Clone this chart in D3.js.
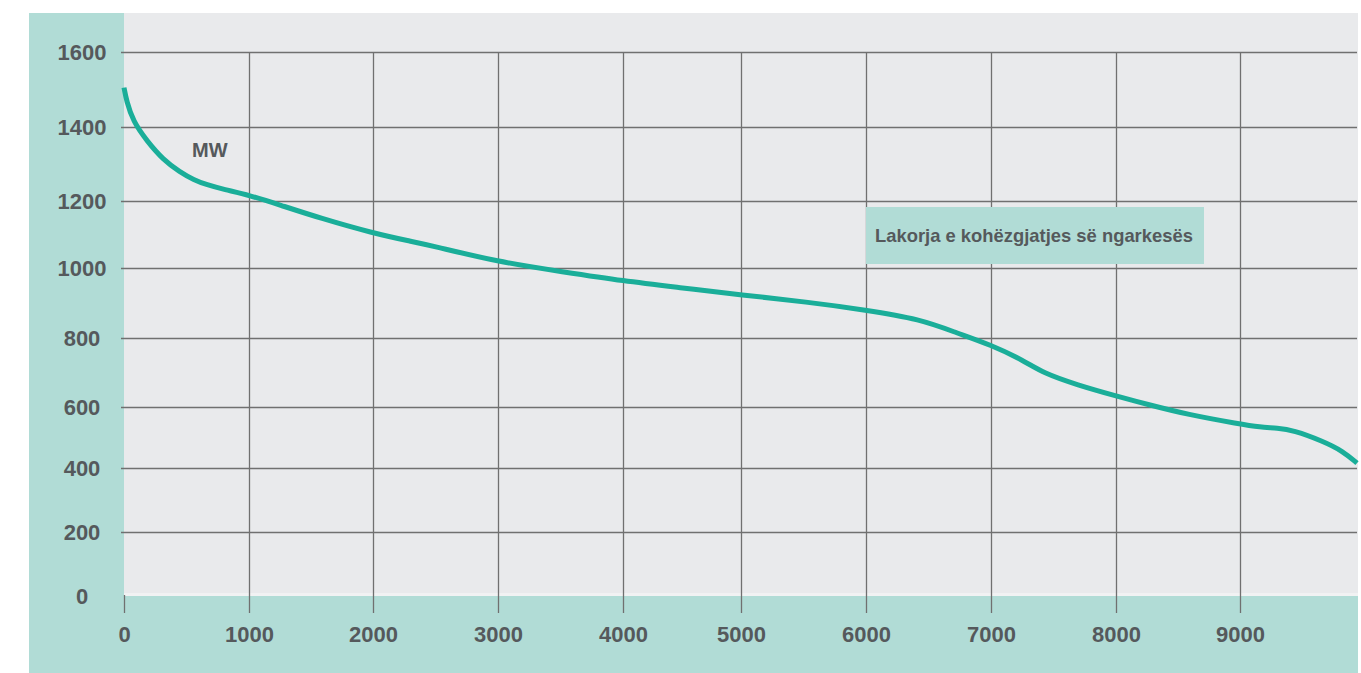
<!DOCTYPE html>
<html>
<head>
<meta charset="utf-8">
<script src="https://cdn.jsdelivr.net/npm/d3@7"></script>
<style>
  html, body { margin: 0; padding: 0; background: #ffffff; }
  svg { display: block; }
  text { font-family: "Liberation Sans", Arial, sans-serif; font-weight: bold; }
</style>
</head>
<body>
<svg id="chart" width="1361" height="673"></svg>
<script>
// ---- data ----
const hours = [0, 20, 72, 184, 312, 448, 560, 660, 800, 1000, 1250, 1573, 2000, 2298, 2456, 3000, 3520, 4000, 4508, 5000, 5528, 6000, 6432, 6730, 7000, 7260, 7420, 7690, 8000, 8270, 8570, 9000, 9160, 9300, 9424, 9664, 9824, 9936];
const mw    = [1505, 1470, 1415, 1362, 1312, 1278, 1257, 1244, 1231, 1216, 1188, 1149, 1104, 1080, 1068, 1018, 989, 963, 943, 923, 903, 880, 854, 814, 780, 735, 698, 664, 632, 606, 576, 544, 534, 531, 524, 488, 455, 416];
const xTicks = [0, 1000, 2000, 3000, 4000, 5000, 6000, 7000, 8000, 9000];
const yTicks = [0, 200, 400, 600, 800, 1000, 1200, 1400, 1600];
const unitLabel = "MW";
const legendLabel = "Lakorja e kohëzgjatjes së ngarkesës";

// ---- layout ----
const svg = d3.select("#chart");
const teal = "#b1dcd6", panel = "#e9eaec", lineCol = "#1aae99", textCol = "#55595c", gridCol = "#707070";
const plotL = 124, plotR = 1358, plotT = 13, plotB = 596;

// piecewise scales (the scanned original has slightly uneven spacing)
const x = d3.scaleLinear()
  .domain([0, 1000, 2000, 3000, 4000, 5000, 6000, 7000, 8000, 9000, 10000])
  .range([124, 249, 373, 498, 623, 741, 866, 991, 1116, 1240, 1365]);
const y = d3.scaleLinear()
  .domain([0, 200, 400, 600, 800, 1000, 1200, 1400, 1600])
  .range([597, 532, 468, 407, 338, 268, 201, 127, 52]);

// backgrounds
svg.append("rect").attr("x", 29).attr("y", plotT).attr("width", plotL - 29).attr("height", 673 - plotT).attr("fill", teal);
svg.append("rect").attr("x", plotL).attr("y", plotT).attr("width", plotR - plotL).attr("height", plotB - plotT).attr("fill", panel);
svg.append("rect").attr("x", plotL).attr("y", plotB).attr("width", plotR - plotL).attr("height", 673 - plotB).attr("fill", teal);
svg.append("rect").attr("x", plotL).attr("y", plotB - 3).attr("width", plotR - plotL).attr("height", 3).attr("fill", "#f1f2f3");

// y axis with horizontal grid
const gy = svg.append("g").attr("transform", `translate(${plotL},0)`)
  .call(d3.axisLeft(y).tickValues(yTicks.filter(d => d > 0)).tickSizeInner(-(1357 - plotL)).tickSizeOuter(0).tickFormat(d3.format("d")));
gy.select(".domain").remove();
gy.selectAll(".tick line").attr("stroke", gridCol).attr("stroke-width", 1.3).attr("x1", -3);
gy.selectAll(".tick text").attr("x", -42).attr("text-anchor", "middle").attr("fill", textCol).attr("font-size", 22).attr("font-family", "Liberation Sans, Arial, sans-serif").attr("font-weight", "bold");
// zero label (no grid line)
svg.append("text").attr("x", plotL - 42).attr("y", y(0)).attr("dy", "0.34em").attr("text-anchor", "middle")
  .attr("fill", textCol).attr("font-size", 22).text(d3.format("d")(yTicks[0]));

// x axis with vertical grid
const axisY = 613;
const gx = svg.append("g").attr("transform", `translate(0,${axisY})`)
  .call(d3.axisBottom(x).tickValues(xTicks).tickSizeInner(-(axisY - 52)).tickSizeOuter(0).tickPadding(0).tickFormat(d3.format("d")));
gx.select(".domain").remove();
gx.selectAll(".tick line").attr("stroke", gridCol).attr("stroke-width", 1.3);
gx.selectAll(".tick").filter(d => d === 0).select("line").attr("y2", -18);
gx.selectAll(".tick text").attr("y", 22).attr("dy", "0.34em").attr("fill", textCol).attr("font-size", 22).attr("font-family", "Liberation Sans, Arial, sans-serif").attr("font-weight", "bold");

// the curve
const pts = hours.map((h, i) => [h, mw[i]]);
svg.append("path").datum(pts)
  .attr("fill", "none").attr("stroke", lineCol).attr("stroke-width", 5).attr("stroke-linecap", "butt")
  .attr("d", d3.line().x(d => x(d[0])).y(d => y(d[1])).curve(d3.curveBasis));

// unit label
svg.append("text").attr("x", 192).attr("y", 150).attr("dy", "0.35em").attr("fill", textCol).attr("font-size", 20).text(unitLabel);

// legend box
svg.append("rect").attr("x", 866).attr("y", 207).attr("width", 338).attr("height", 57).attr("fill", teal);
svg.append("text").attr("x", 875).attr("y", 236).attr("dy", "0.35em").attr("fill", textCol).attr("font-size", 18.4).text(legendLabel);
</script>
</body>
</html>
